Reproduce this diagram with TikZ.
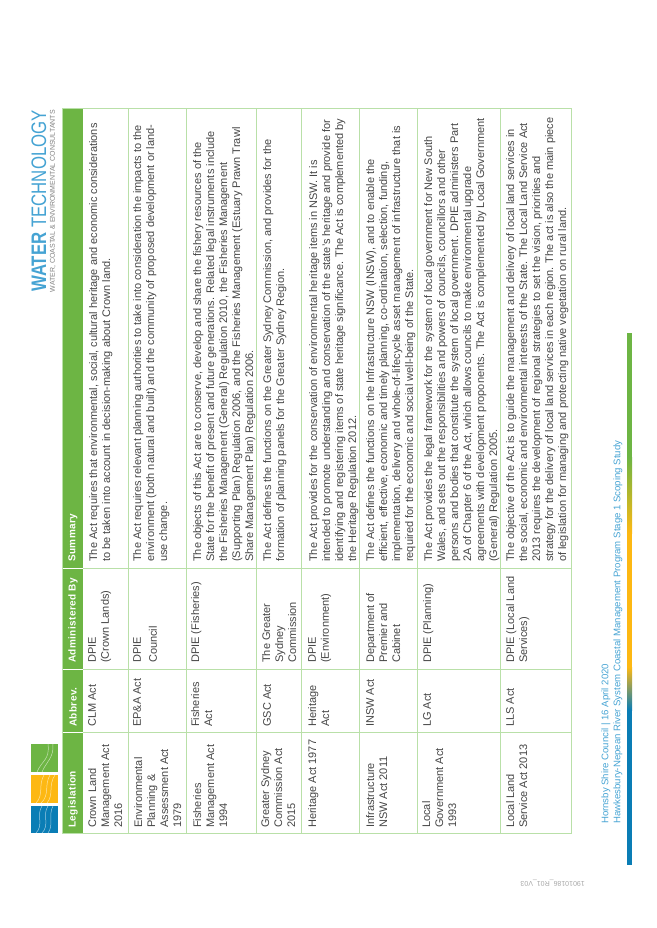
\documentclass[tikz,border=0pt]{standalone}
\usepackage{fontspec}
\setmainfont{Liberation Sans}
\newfontfamily\headfont[LetterSpace=4]{Liberation Sans}
\usetikzlibrary{positioning}
\definecolor{wtgreen}{HTML}{6DB544}
\definecolor{wtrule}{HTML}{B9E0A8}
\definecolor{wtyellow}{HTML}{FDB813}
\definecolor{wtblue}{HTML}{0A7DB5}
\definecolor{wtsky}{HTML}{45A3D3}
\definecolor{wttext}{HTML}{454545}
\tikzset{
    cell/.style={rotate=90,anchor=north west,inner sep=0pt,align=left,text=wttext,font=\fontsize{11}{13}\selectfont},
    headcell/.style={rotate=90,anchor=west,inner sep=0pt,text=white,font=\headfont\bfseries\fontsize{10}{13}\selectfont},
    footcell/.style={rotate=90,anchor=west,inner sep=0pt,text=wtsky,font=\fontsize{9.6}{13}\selectfont},
    squiggle/.style={draw=white,opacity=0.6,line width=0.5pt}
}
\begin{document}
\begin{tikzpicture}[x=1pt,y=-1pt]
    \useasboundingbox (0,0) rectangle (656,928);
    % table frame
    \fill[wtgreen] (62.5,108.5) rectangle (83,833);
    \draw[wtrule,line width=1pt] (62.5,108.5) rectangle (571.5,833);
    \foreach \rowx in {128,186,256,301,359,417,500}
        \draw[wtrule,line width=1pt] (\rowx,108.5) -- (\rowx,833);
    \foreach \coly in {568,669,732} {
        \draw[wtrule,line width=1pt] (83,\coly) -- (571.5,\coly);
        \draw[white,line width=1pt] (62.5,\coly) -- (83,\coly);
    }
    % header
    \node[headcell] (hleg) at (73,828) {Legislation};
    \node[headcell] (habb) at (73,727) {Abbrev.};
    \node[headcell] (hadm) at (73,663) {Administered By};
    \node[headcell] (hsum) at (73,562) {Summary};
    % legislation
    \node[cell] (leg1) at (88,828) {Crown Land\\Management Act\\2016};
    \node[cell] (leg2) at (134,828) {Environmental\\Planning \&\\Assessment Act\\1979};
    \node[cell] (leg3) at (193,828) {Fisheries\\Management Act\\1994};
    \node[cell] (leg4) at (261,828) {Greater Sydney\\Commission Act\\2015};
    \node[cell] (leg5) at (308,828) {Heritage Act 1977};
    \node[cell] (leg6) at (366,828) {Infrastructure\\NSW Act 2011};
    \node[cell] (leg7) at (422,828) {Local\\Government Act\\1993};
    \node[cell] (leg8) at (506,828) {Local Land\\Service Act 2013};
    % abbreviation
    \node[cell] (abb1) at (88,727) {CLM Act};
    \node[cell] (abb2) at (133,727) {EP\&A Act};
    \node[cell] (abb3) at (191,727) {Fisheries\\Act};
    \node[cell] (abb4) at (263,727) {GSC Act};
    \node[cell] (abb5) at (308,727) {Heritage\\Act};
    \node[cell] (abb6) at (366,727) {INSW Act};
    \node[cell] (abb7) at (423,727) {LG Act};
    \node[cell] (abb8) at (506,727) {LLS Act};
    % administered by
    \node[cell] (adm1) at (88,663) {DPIE\\(Crown Lands)};
    \node[cell] (adm2) at (133,663) {DPIE\\[3pt]Council};
    \node[cell] (adm3) at (191,663) {DPIE (Fisheries)};
    \node[cell] (adm4) at (262,663) {The Greater\\Sydney\\Commission};
    \node[cell] (adm5) at (308,663) {DPIE\\(Environment)};
    \node[cell] (adm6) at (366,663) {Department of\\Premier and\\Cabinet};
    \node[cell] (adm7) at (423,663) {DPIE (Planning)};
    \node[cell] (adm8) at (506,663) {DPIE (Local Land\\Services)};
    % summary
    \node[cell] (sum1) at (89,562) {The Act requires that environmental, social, cultural heritage and economic considerations\\to be taken into account in decision-making about Crown land.};
    \node[cell] (sum2) at (133,562) {The Act requires relevant planning authorities to take into consideration the impacts to the\\environment (both natural and built) and the community of proposed development or land-\\use change.};
    \node[cell] (sum3) at (193,562) {The objects of this Act are to conserve, develop and share the fishery resources of the\\State for the benefit of present and future generations. Related legal instruments include\\the Fisheries Management (General) Regulation 2010, the Fisheries Management\\(Supporting Plan) Regulation 2006, and the Fisheries Management (Estuary Prawn Trawl\\Share Management Plan) Regulation 2006.};
    \node[cell] (sum4) at (263,562) {The Act defines the functions on the Greater Sydney Commission, and provides for the\\formation of planning panels for the Greater Sydney Region.};
    \node[cell] (sum5) at (309,562) {The Act provides for the conservation of environmental heritage items in NSW. It is\\intended to promote understanding and conservation of the state's heritage and provide for\\identifying and registering items of state heritage significance. The Act is complemented by\\the Heritage Regulation 2012.};
    \node[cell] (sum6) at (366,562) {The Act defines the functions on the Infrastructure NSW (INSW), and to enable the\\efficient, effective, economic and timely planning, co-ordination, selection, funding,\\implementation, delivery and whole-of-lifecycle asset management of infrastructure that is\\required for the economic and social well-being of the State.};
    \node[cell] (sum7) at (424,562) {The Act provides the legal framework for the system of local government for New South\\Wales, and sets out the responsibilities and powers of councils, councillors and other\\persons and bodies that constitute the system of local government. DPIE administers Part\\2A of Chapter 6 of the Act, which allows councils to make environmental upgrade\\agreements with development proponents. The Act is complemented by Local Government\\(General) Regulation 2005.};
    \node[cell] (sum8) at (506,562) {The objective of the Act is to guide the management and delivery of local land services in\\the social, economic and environmental interests of the State. The Local Land Service Act\\2013 requires the development of regional strategies to set the vision, priorities and\\strategy for the delivery of local land services in each region. The act is also the main piece\\of legislation for managing and protecting native vegetation on rural land.};
    % company name
    \node[rotate=90,anchor=east,inner sep=0pt,text=wtsky,font=\fontsize{21}{21}\selectfont] (wtname) at (39,110) {\scalebox{0.8}[1]{\textbf{WATER} TECHNOLOGY}};
    \node[rotate=90,anchor=east,inner sep=0pt,text=gray,font=\fontsize{7}{8}\selectfont] (wtsub) at (53,110) {WATER, COASTAL \& ENVIRONMENTAL CONSULTANTS};
    % logo squares
    \fill[wtgreen] (31,744) rectangle (58,772);
    \fill[wtyellow] (31,775) rectangle (58,803);
    \fill[wtblue] (31,806) rectangle (58,833);
    \draw[squiggle] (37,772) .. controls (42,760) and (50,760) .. (48,744);
    \draw[squiggle] (42,772) .. controls (46,762) and (54,758) .. (53,744);
    \draw[squiggle] (36,803) .. controls (44,795) and (38,785) .. (44,775);
    \draw[squiggle] (41,803) .. controls (50,795) and (44,785) .. (50,775);
    \draw[squiggle] (47,803) .. controls (54,795) and (48,785) .. (55,775);
    \draw[squiggle] (36,833) .. controls (44,825) and (36,815) .. (42,806);
    \draw[squiggle] (42,833) .. controls (50,825) and (42,815) .. (48,806);
    \draw[squiggle] (48,833) .. controls (54,825) and (48,815) .. (53,806);
    % footer
    \node[footcell] (foot1) at (606,824) {Hornsby Shire Council | 16 April 2020};
    \node[footcell] (foot2) at (618,824) {Hawkesbury-Nepean River System Coastal Management Program Stage 1 Scoping Study};
    \fill[wtgreen] (627,333) rectangle (632,457);
    \shade[top color=wtgreen,bottom color=wtyellow] (627,457) rectangle (632,533);
    \fill[wtyellow] (627,533) rectangle (632,667);
    \shade[top color=wtyellow,bottom color=wtblue] (627,667) rectangle (632,710);
    \fill[wtblue] (627,710) rectangle (632,865);
    % stamp
    \node[rotate=180,anchor=west,inner sep=0pt,text=gray!70,font=\fontsize{7}{8}\selectfont] (stamp) at (585,883) {19010186\_R01\_V03};
\end{tikzpicture}
\end{document}
